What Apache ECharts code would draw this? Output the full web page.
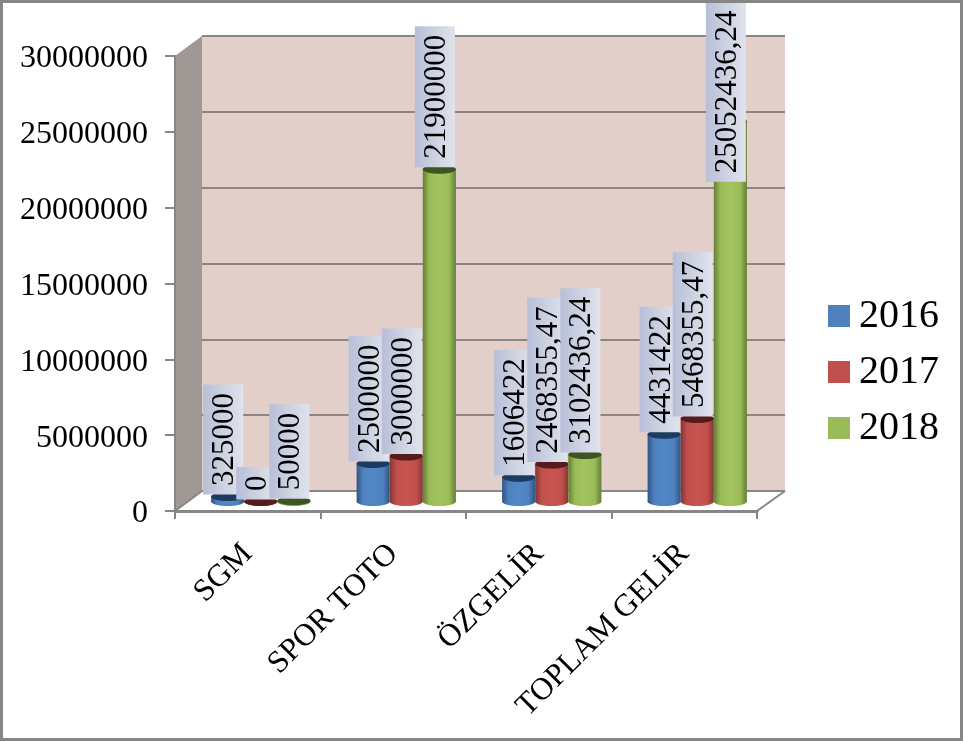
<!DOCTYPE html>
<html><head><meta charset="utf-8">
<style>html,body{margin:0;padding:0;background:#fff}#c{width:963px;height:741px}</style>
<script src="https://cdn.jsdelivr.net/npm/echarts@6/dist/echarts.min.js"></script>
</head><body><div id="c"></div>
<script>
const categories = ['SGM', 'SPOR TOTO', 'ÖZGELİR', 'TOPLAM GELİR'];
const years = ['2016', '2017', '2018'];
const v2016 = [325000, 2500000, 1606422, 4431422];
const v2017 = [0, 3000000, 2468355.47, 5468355.47];
const v2018 = [50000, 21900000, 3102436.24, 25052436.24];
const yearValues = [v2016, v2017, v2018];

const FONT = '"Liberation Serif", serif';
const palette = [
  {base:'#4f81bd', light:'#5288c8', dark:'#2f5585', top:'#1c3b60'},
  {base:'#c0504d', light:'#c9544f', dark:'#853533', top:'#561c1b'},
  {base:'#9bbb59', light:'#a2c45d', dark:'#647e35', top:'#3f5420'}
];
const LABEL_SIZE = 31;
const DX = 13, DY = -9.5, RY = 4.5;
const measure = document.createElement('canvas').getContext('2d');
measure.font = LABEL_SIZE + 'px "Liberation Serif"';
const gradient = (stops) => new echarts.graphic.LinearGradient(0, 0, 1, 0, stops);

function barItem(j) {
  return function (params, api) {
    const c = palette[j];
    const p = api.coord([api.value(0), api.value(1)]);
    const z = api.coord([api.value(0), 0]);
    const band = api.size([1, 0])[0];
    const w = band * 0.2275;
    const cx = p[0] + (j - 1) * w + DX;
    const x = cx - w / 2, top = p[1] + DY, base = z[1] + DY;
    const fill = gradient([
      {offset:0, color:c.dark}, {offset:0.2, color:c.base}, {offset:0.5, color:c.light},
      {offset:0.8, color:c.base}, {offset:1, color:c.dark}]);
    return {type:'group', children:[
      {type:'ellipse', shape:{cx:cx, cy:base, rx:w/2, ry:RY}, style:{fill:fill}},
      {type:'rect', shape:{x:x, y:top, width:w, height:base-top}, style:{fill:fill}},
      {type:'ellipse', shape:{cx:cx, cy:top, rx:w/2, ry:RY}, style:{fill:c.top}}
    ]};
  };
}
function labelItem(j) {
  return function (params, api) {
    const p = api.coord([api.value(0), api.value(1)]);
    const band = api.size([1, 0])[0];
    const w = band * 0.2275;
    const cx = p[0] + (j - 1) * w + DX - 4.5;
    const txt = String(api.value(1)).replace('.', ',');
    const len = measure.measureText(txt).width + 17;
    let bottom = p[1] + DY - 2;
    if (bottom - len < 2) bottom = 2 + len;
    const bw = 40;
    return {type:'group', children:[
      {type:'rect', shape:{x:cx-bw/2, y:bottom-len, width:bw, height:len},
        style:{fill:gradient([{offset:0,color:'#b7bfd8'},{offset:0.5,color:'#cdd2e2'},{offset:1,color:'#e0e3ec'}])}},
      {type:'text', x:cx+2, y:bottom-len/2, rotation:Math.PI/2,
        style:{text:txt, font:LABEL_SIZE+'px "Liberation Serif"', fill:'#000', align:'center', verticalAlign:'middle'}}
    ]};
  };
}
const series = [];
years.forEach((y, j) => series.push({
  name:y, type:'custom', xAxisIndex:0, yAxisIndex:0, z:3,
  itemStyle:{color:palette[j].base}, renderItem:barItem(j),
  data:yearValues[j].map((v,i)=>[i,v]), clip:false, silent:true, animation:false
}));
years.forEach((y, j) => series.push({
  name:'etiket'+y, type:'custom', xAxisIndex:0, yAxisIndex:0, z:4+j,
  renderItem:labelItem(j),
  data:yearValues[j].map((v,i)=>[i,v]), clip:false, silent:true, animation:false
}));

const grey = '#868686';
const option = {
  animation:false,
  backgroundColor:'#fff',
  grid:[
    {left:175, top:56, width:582, height:455},
    {left:202, top:36, width:583, height:455, show:true, backgroundColor:'#e3cfc9', borderWidth:0}
  ],
  xAxis:[
    {type:'category', gridIndex:0, data:categories, boundaryGap:true,
      axisLine:{show:true, lineStyle:{color:grey, width:3}},
      axisTick:{show:true, length:8, alignWithLabel:false, lineStyle:{color:grey, width:2}},
      axisLabel:{rotate:45, fontFamily:FONT, fontSize:31.5, color:'#000', margin:38, interval:0}},
    {type:'category', gridIndex:1, data:categories, show:false}
  ],
  yAxis:[
    {type:'value', gridIndex:0, min:0, max:30000000, interval:5000000,
      axisLine:{show:true, lineStyle:{color:grey, width:2}},
      axisTick:{show:true, length:10, lineStyle:{color:grey, width:2}},
      splitLine:{show:false},
      axisLabel:{fontFamily:FONT, fontSize:32, color:'#000', margin:27, verticalAlign:'top', lineHeight:6,
        formatter:(v)=>String(v)}},
    {type:'value', gridIndex:1, min:0, max:30000000, interval:5000000,
      axisLine:{show:false}, axisTick:{show:false}, axisLabel:{show:false},
      splitLine:{show:true, lineStyle:{color:'#8c8580', width:2}}}
  ],
  legend:{
    data:years, orient:'vertical', left:823, top:291, icon:'rect',
    itemWidth:22, itemHeight:22, itemGap:16, selectedMode:false,
    textStyle:{fontFamily:FONT, fontSize:40, color:'#000', padding:[0,0,0,4]}
  },
  graphic:[
    {type:'polygon', z:-1, silent:true, shape:{points:[[175,56],[202,36],[202,491],[175,511]]},
      style:{fill:'#a09894'}},
    {type:'polygon', z:-1, silent:true, shape:{points:[[175,511],[202,491],[785,491],[757,511]]},
      style:{fill:'#ffffff'}},
    {type:'polyline', z:1, silent:true, shape:{points:[[175,511],[202,491]]}, style:{stroke:grey, lineWidth:2, fill:null}},
    {type:'polyline', z:1, silent:true, shape:{points:[[757,511],[785,491]]}, style:{stroke:grey, lineWidth:2, fill:null}},
    {type:'rect', z:100, silent:true, shape:{x:1.5, y:1.5, width:960, height:738},
      style:{fill:null, stroke:'#868686', lineWidth:3}}
  ],
  series:series
};
const chart = echarts.init(document.getElementById('c'), null, {renderer:'canvas'});
chart.setOption(option);
</script></body></html>
